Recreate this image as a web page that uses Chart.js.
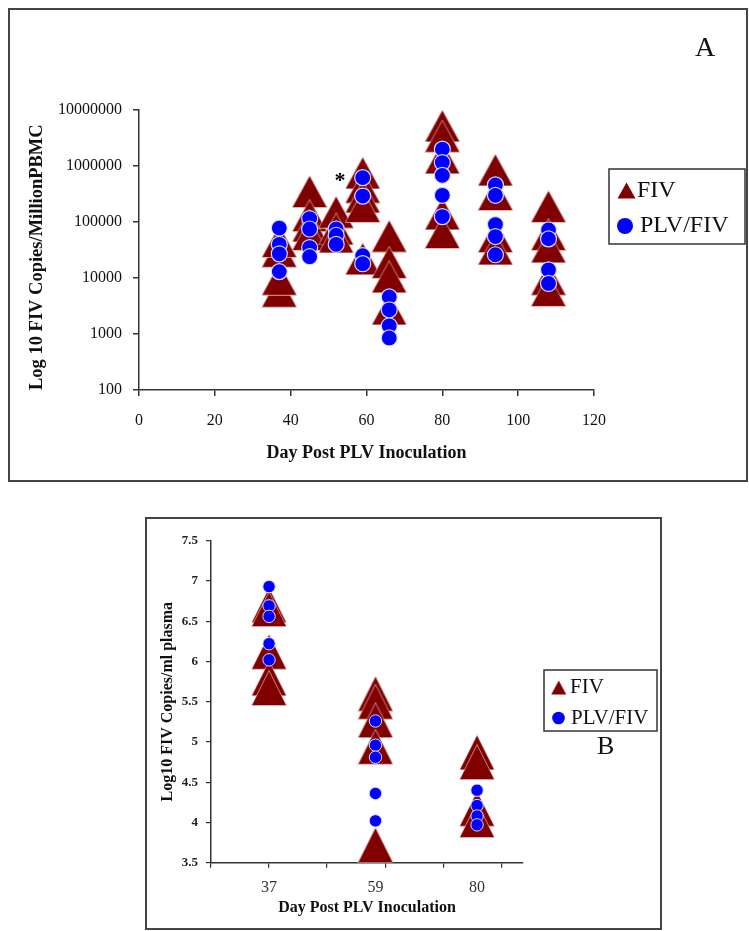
<!DOCTYPE html>
<html><head><meta charset="utf-8">
<script src="https://cdn.jsdelivr.net/npm/chart.js@4.4.1/dist/chart.umd.min.js"></script>
<style>
html,body{margin:0;padding:0;background:#fff;}
body{width:749px;height:931px;position:relative;overflow:hidden;font-family:'Liberation Serif','Times New Roman',serif;}
.panel{position:absolute;box-sizing:border-box;border:2px solid #444;}
canvas{position:absolute;left:0;}
.lbl{position:absolute;color:#111;white-space:nowrap;}
</style></head><body>
<div class="panel" style="left:8px;top:8px;width:740px;height:474px"></div>
<div class="panel" style="left:145px;top:517px;width:517px;height:413px"></div>
<canvas id="chartA" width="749" height="495" style="top:0;width:749px;height:495px"></canvas>
<canvas id="chartB" width="749" height="431" style="top:500px;width:749px;height:431px"></canvas>
<div class="lbl" style="left:695px;top:30px;font-size:28px;line-height:34px">A</div>
<div class="lbl" style="left:597px;top:730px;font-size:26px;line-height:32px">B</div>
<script>
// ---------- Panel A data (FIV copies per million PBMC) ----------
const fivDaysA   = [37,37,37,37, 45,45,45,45, 52,52,52, 59,59,59,59,59, 66,66,66,66, 80,80,80,80,80, 94,94,94,94, 108,108,108,108,108];
const fivCopiesA = [5800,9500,30000,45000, 350000,130000,85000,60000, 150000,75000,54000, 750000,420000,280000,190000,22000, 56000,19000,10500,2800, 5200000,3400000,1400000,140000,65000, 850000,310000,55000,33000, 190000,60000,36000,9500,6000];
const plvDaysA   = [37,37,37,37, 45,45,45,45, 52,52,52, 59,59,59,59, 66,66,66,66, 80,80,80,80,80, 94,94,94,94,94, 108,108,108,108];
const plvCopiesA = [78000,40000,27000,13000, 115000,75000,35000,24000, 75000,58000,40000, 620000,290000,25000,18000, 4600,2700,1400,850, 2000000,1150000,680000,300000,125000, 460000,300000,90000,55000,26000, 72000,50000,14000,8000];
const xTicksA = [0,20,40,60,80,100,120];
const yTicksA = [100,1000,10000,100000,1000000,10000000];
const starDaysA = [53];
const starCopiesA = [600000];

// ---------- Panel B data (log10 FIV copies / ml plasma) ----------
const fivDaysB = [37,37,37,37,37, 59,59,59,59,59, 80,80,80,80];
const fivLogB  = [6.7,6.65,6.12,5.79,5.67, 5.6,5.5,5.27,4.94,3.72, 4.87,4.75,4.17,4.03];
const plvDaysB = [37,37,37,37,37, 59,59,59,59,59, 80,80,80,80];
const plvLogB  = [6.93,6.69,6.56,6.22,6.02, 5.26,4.96,4.81,4.36,4.02, 4.40,4.21,4.08,3.97];
const yTicksB = [3.5,4,4.5,5,5.5,6,6.5,7,7.5];
const xTickMarksB = [25,37,49,61,73,85];
const xLabelDaysB = [37,59,80];

const SERIF = "'Liberation Serif','Times New Roman',serif";
const MAROON = '#800000';
const BLUE = '#0000ff';

function makeTriangle(w, h, fill, edge) {
  const c = document.createElement('canvas');
  c.width = w; c.height = h;
  const g = c.getContext('2d');
  g.beginPath();
  g.moveTo(w / 2, 0.5); g.lineTo(w - 0.5, h - 0.5); g.lineTo(0.5, h - 0.5); g.closePath();
  g.fillStyle = fill; g.fill();
  if (edge) { g.strokeStyle = edge; g.lineWidth = 1; g.stroke(); }
  return c;
}
const triA = makeTriangle(36, 33, MAROON, 'rgba(255,235,235,0.55)');
const triB = makeTriangle(36, 36, MAROON, 'rgba(255,235,235,0.55)');
const triLegA = makeTriangle(19, 17, MAROON, null);
const triLegB = makeTriangle(16, 15, MAROON, null);

const pts = (xs, ys) => xs.map((x, i) => ({x: x, y: ys[i]}));

const boxLegend = {
  id: 'boxLegend',
  afterDraw(chart, args, o) {
    if (!o || !o.box) return;
    const ctx = chart.ctx;
    ctx.save();
    ctx.lineWidth = o.lineWidth; ctx.strokeStyle = o.borderColor;
    ctx.strokeRect(o.box[0], o.box[1], o.box[2], o.box[3]);
    ctx.font = o.font; ctx.textBaseline = 'middle'; ctx.textAlign = 'left';
    chart.data.datasets.forEach((ds, i) => {
      const y = o.rows[i], sx = o.symX[i];
      const img = i === 0 ? o.triangle : null;
      if (img) {
        ctx.drawImage(img, sx - img.width / 2, y - img.height / 2);
      } else {
        ctx.beginPath(); ctx.arc(sx, y, o.circleR, 0, Math.PI * 2);
        ctx.fillStyle = ds.backgroundColor; ctx.fill();
      }
      ctx.fillStyle = o.color;
      ctx.fillText(ds.label, o.textX[i], y);
    });
    ctx.restore();
  }
};

const starMark = {
  id: 'starMark',
  afterDatasetsDraw(chart, args, o) {
    if (!o || !o.xs) return;
    const ctx = chart.ctx;
    ctx.save();
    ctx.font = o.font; ctx.fillStyle = '#000'; ctx.textAlign = 'center'; ctx.textBaseline = 'middle';
    o.xs.forEach((x, i) => {
      const px = chart.scales.x.getPixelForValue(x);
      const py = chart.scales.y.getPixelForValue(o.ys[i]);
      ctx.fillText('*', px, py + o.dy);
    });
    ctx.restore();
  }
};

// ---------------- Chart A ----------------
new Chart(document.getElementById('chartA'), {
  type: 'scatter',
  data: {
    datasets: [
      { label: 'FIV', data: pts(fivDaysA, fivCopiesA), pointStyle: triA, pointRadius: 16,
        backgroundColor: MAROON, borderColor: MAROON, order: 2 },
      { label: 'PLV/FIV', data: pts(plvDaysA, plvCopiesA), pointStyle: 'circle', pointRadius: 8,
        pointBorderWidth: 1.2, backgroundColor: BLUE, borderColor: 'rgba(225,225,255,0.95)', order: 1 }
    ]
  },
  options: {
    responsive: false, animation: false, events: [],
    layout: { padding: { left: 0, top: 110, right: 155, bottom: 25 } },
    plugins: {
      legend: { display: false }, tooltip: { enabled: false },
      boxLegend: { box: [609, 169, 136, 75], lineWidth: 1.5, borderColor: '#333',
        rows: [190.5, 226], symX: [626.5, 625], textX: [637, 640],
        font: '24px ' + SERIF, color: '#111', triangle: triLegA, circleR: 8 },
      starMark: { xs: starDaysA, ys: starCopiesA, font: 'bold 22px ' + SERIF, dy: 3 }
    },
    scales: {
      x: {
        type: 'linear', min: 0, max: 120,
        afterBuildTicks: s => { s.ticks = xTicksA.map(v => ({value: v})); },
        afterFit: s => { s.height = 80; },
        grid: { display: true, drawOnChartArea: false, drawTicks: true, tickLength: 6, color: '#333', lineWidth: 1.5 },
        border: { display: true, color: '#333', width: 1.5 },
        ticks: { font: { family: SERIF, size: 16 }, color: '#111', padding: 15.5, maxRotation: 0 },
        title: { display: true, text: 'Day Post PLV Inoculation', color: '#111',
          font: { family: SERIF, size: 18, weight: 'bold' }, padding: { top: 0, bottom: 6.2 } }
      },
      y: {
        type: 'logarithmic', min: 100, max: 10000000,
        afterBuildTicks: s => { s.ticks = yTicksA.map(v => ({value: v})); },
        afterFit: s => { s.width = 139; },
        grid: { display: true, drawOnChartArea: false, drawTicks: true, tickLength: 6, color: '#333', lineWidth: 1.5 },
        border: { display: true, color: '#333', width: 1.5 },
        ticks: { font: { family: SERIF, size: 16 }, color: '#111', padding: 11, callback: v => String(v) },
        title: { display: true, text: 'Log 10 FIV Copies/MillionPBMC', color: '#111', align: 'start',
          font: { family: SERIF, size: 18.5, weight: 'bold' }, padding: { top: 26.6, bottom: 0 } }
      }
    }
  },
  plugins: [boxLegend, starMark]
});

// ---------------- Chart B ----------------
new Chart(document.getElementById('chartB'), {
  type: 'scatter',
  data: {
    datasets: [
      { label: 'FIV', data: pts(fivDaysB, fivLogB), pointStyle: triB, pointRadius: 17,
        backgroundColor: MAROON, borderColor: MAROON, order: 2, clip: 0 },
      { label: 'PLV/FIV', data: pts(plvDaysB, plvLogB), pointStyle: 'circle', pointRadius: 6.2,
        pointBorderWidth: 1, backgroundColor: BLUE, borderColor: 'rgba(225,225,255,0.95)', order: 1 }
    ]
  },
  options: {
    responsive: false, animation: false, events: [],
    layout: { padding: { left: 0, top: 40.7, right: 226, bottom: 4.3 } },
    plugins: {
      legend: { display: false }, tooltip: { enabled: false },
      boxLegend: { box: [544, 170, 113, 61], lineWidth: 1.5, borderColor: '#333',
        rows: [187.5, 218], symX: [558.7, 558.5], textX: [570, 571],
        font: '21px ' + SERIF, color: '#111', triangle: triLegB, circleR: 6.3 }
    },
    scales: {
      x: {
        type: 'linear', min: 25, max: 89.5, position: 'bottom', weight: 0,
        afterBuildTicks: s => { s.ticks = xTickMarksB.map(v => ({value: v})); },
        afterFit: s => { s.height = 6; },
        grid: { display: true, drawOnChartArea: false, drawTicks: true, tickLength: 5, color: '#333', lineWidth: 1.2 },
        border: { display: true, color: '#333', width: 1.5 },
        ticks: { display: false }
      },
      x2: {
        type: 'linear', min: 25, max: 89.5, position: 'bottom', weight: 1,
        afterBuildTicks: s => { s.ticks = xLabelDaysB.map(v => ({value: v})); },
        afterFit: s => { s.height = 58; },
        grid: { display: false, drawTicks: false },
        border: { display: false },
        ticks: { font: { family: SERIF, size: 16 }, color: '#333', padding: 9, maxRotation: 0 },
        title: { display: true, text: 'Day Post PLV Inoculation', color: '#111',
          font: { family: SERIF, size: 16, weight: 'bold' }, padding: { top: 0, bottom: 8.8 } }
      },
      y: {
        type: 'linear', min: 3.5, max: 7.5,
        afterBuildTicks: s => { s.ticks = yTicksB.map(v => ({value: v})); },
        afterFit: s => { s.width = 211; },
        grid: { display: true, drawOnChartArea: false, drawTicks: true, tickLength: 5, color: '#333', lineWidth: 1.2 },
        border: { display: true, color: '#333', width: 1.5 },
        ticks: { font: { family: SERIF, size: 13, weight: 'bold' }, color: '#222', padding: 8, callback: v => String(v) },
        title: { display: true, text: 'Log10 FIV Copies/ml plasma', color: '#111',
          font: { family: SERIF, size: 16, weight: 'bold' }, padding: { top: 158.4, bottom: 0 } }
      }
    }
  },
  plugins: [boxLegend]
});
</script>
</body></html>
